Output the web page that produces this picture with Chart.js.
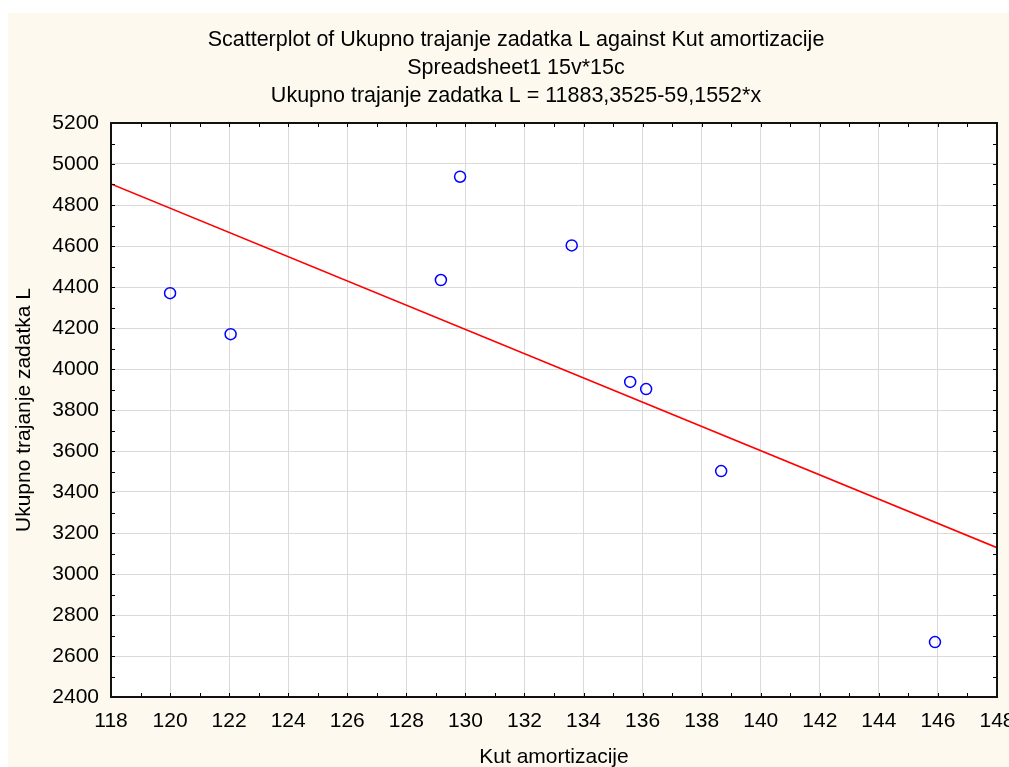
<!DOCTYPE html>
<html>
<head>
<meta charset="utf-8">
<script src="https://cdn.jsdelivr.net/npm/chart.js@4"></script>
<style>
  html, body { margin: 0; padding: 0; background: #ffffff; }
  #wrap { width: 1009px; height: 767px; }
</style>
</head>
<body>
<div id="wrap"><canvas id="chart" width="1009" height="767"></canvas></div>
<script>
// values
const kutAmortizacije = [120.0, 122.05, 129.17, 129.82, 133.6, 135.58, 136.12, 138.66, 145.9];
const ukupnoTrajanje = [4370, 4170, 4434, 4938, 4603, 3937, 3902, 3502, 2668];

// fitted line from the title: y = 11883,3525 - 59,1552*x
const intercept = 11883.3525;
const slope = -59.1552;

const xMin = 118, xMax = 148, xStep = 2;
const yMin = 2400, yMax = 5200, yStep = 200;

const titleLines = [
    'Scatterplot of Ukupno trajanje zadatka L against Kut amortizacije',
    'Spreadsheet1 15v*15c',
    'Ukupno trajanje zadatka L = 11883,3525-59,1552*x'
];

const fontFamily = '"Liberation Sans", Arial, sans-serif';

const points = kutAmortizacije.map((x, i) => ({ x: x, y: ukupnoTrajanje[i] }));
const fitLine = [xMin, xMax].map(x => ({ x: x, y: intercept + slope * x }));

// cream panel + white plot area
const backgroundPlugin = {
    id: 'panelBackground',
    beforeDraw(chart) {
        const ctx = chart.ctx;
        const a = chart.chartArea;
        ctx.save();
        ctx.fillStyle = '#fdf9ef';
        ctx.fillRect(8, 13, chart.width - 8, chart.height - 13);
        ctx.fillStyle = '#ffffff';
        ctx.fillRect(a.left, a.top, a.right - a.left, a.bottom - a.top);
        ctx.restore();
    }
};

// box frame and small inward ticks on all four sides
const framePlugin = {
    id: 'frameTicks',
    afterDraw(chart) {
        const ctx = chart.ctx;
        const a = chart.chartArea;
        const xs = chart.scales.x, ys = chart.scales.y;
        const len = 4;
        ctx.save();
        ctx.strokeStyle = '#000000';
        ctx.lineWidth = 1;
        ctx.beginPath();
        for (let v = xMin; v <= xMax; v += 1) {
            const px = Math.round(xs.getPixelForValue(v)) + 0.5;
            ctx.moveTo(px, a.bottom); ctx.lineTo(px, a.bottom - len);
            ctx.moveTo(px, a.top); ctx.lineTo(px, a.top + len);
        }
        for (let v = yMin; v <= yMax; v += 100) {
            const py = Math.round(ys.getPixelForValue(v)) + 0.5;
            ctx.moveTo(a.left, py); ctx.lineTo(a.left + len, py);
            ctx.moveTo(a.right, py); ctx.lineTo(a.right - len, py);
        }
        ctx.stroke();
        ctx.lineWidth = 2;
        ctx.strokeStyle = '#111111';
        ctx.strokeRect(a.left, a.top, a.right - a.left, a.bottom - a.top);
        ctx.restore();
    }
};

new Chart(document.getElementById('chart'), {
    type: 'scatter',
    data: {
        datasets: [{
            type: 'line',
            label: 'fit',
            data: fitLine,
            borderColor: '#ff0000',
            borderWidth: 1.5,
            pointRadius: 0,
            fill: false,
            order: 2
        }, {
            label: 'Ukupno trajanje zadatka L',
            data: points,
            pointStyle: 'circle',
            pointRadius: 5.5,
            borderColor: '#0000ff',
            backgroundColor: 'rgba(0,0,0,0)',
            borderWidth: 1.5,
            order: 1
        }]
    },
    options: {
        responsive: false,
        animation: false,
        layout: { padding: { left: 35, right: 12, top: 0, bottom: 0 } },
        plugins: {
            legend: { display: false },
            tooltip: { enabled: false },
            title: {
                display: true,
                text: titleLines,
                color: '#000000',
                font: { family: fontFamily, size: 21.5, weight: 'normal', lineHeight: '28px' },
                padding: { top: 26, bottom: 13 }
            }
        },
        scales: {
            x: {
                type: 'linear',
                min: xMin,
                max: xMax,
                afterFit(scale) {
                    scale.height = 70;
                    scale.paddingLeft = 0;
                    scale.paddingRight = 0;
                },
                ticks: {
                    stepSize: xStep,
                    color: '#000000',
                    padding: 12,
                    maxRotation: 0,
                    font: { family: fontFamily, size: 21 },
                    callback: v => String(v)
                },
                grid: { color: '#dadada', lineWidth: 1, drawTicks: false },
                border: { display: false },
                title: {
                    display: true,
                    text: 'Kut amortizacije',
                    color: '#000000',
                    font: { family: fontFamily, size: 21, lineHeight: 1.2 },
                    padding: { top: 0, bottom: -2.6 }
                }
            },
            y: {
                type: 'linear',
                min: yMin,
                max: yMax,
                afterFit(scale) {
                    scale.width = 76;
                    scale.paddingTop = 0;
                    scale.paddingBottom = 0;
                },
                ticks: {
                    stepSize: yStep,
                    color: '#000000',
                    padding: 12,
                    font: { family: fontFamily, size: 21 },
                    callback: v => String(v)
                },
                grid: { color: '#dadada', lineWidth: 1, drawTicks: false },
                border: { display: false },
                title: {
                    display: true,
                    text: 'Ukupno trajanje zadatka L',
                    color: '#000000',
                    font: { family: fontFamily, size: 21, lineHeight: 1.2 },
                    padding: { top: -23.6, bottom: 0 }
                }
            }
        }
    },
    plugins: [backgroundPlugin, framePlugin]
});
</script>
</body>
</html>
